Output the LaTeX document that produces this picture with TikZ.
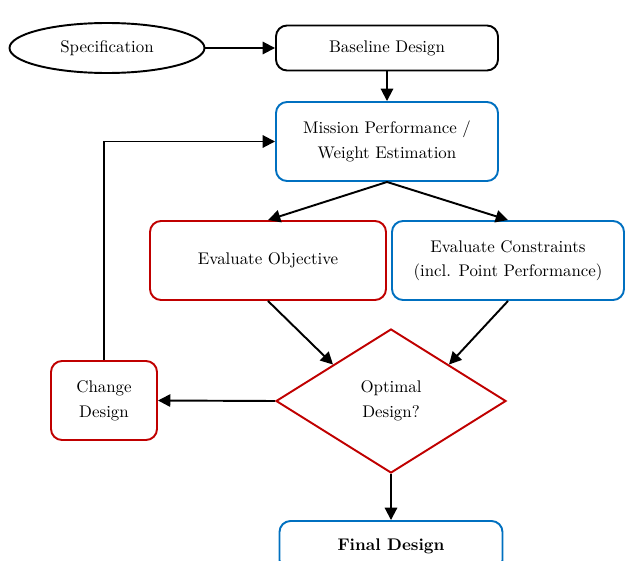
\documentclass[tikz,border=0pt]{standalone}
\usetikzlibrary{shapes.geometric,arrows.meta}
\definecolor{boxblue}{RGB}{0,112,192}
\definecolor{boxred}{RGB}{192,0,0}

\begin{document}
\begin{tikzpicture}[
    >={Triangle[length=7pt,width=7pt]},
    every node/.style={font=\fontsize{9.6}{11}\selectfont, align=center, line width=1.1pt},
    bluebox/.style={draw=boxblue, rounded corners=0.22cm},
    redbox/.style={draw=boxred, rounded corners=0.22cm},
    blackbox/.style={draw=black, rounded corners=0.22cm},
    flow/.style={->, line width=1.1pt}
  ]
  \useasboundingbox (0,0) rectangle (12.5,-11.2);
  %
  \node[draw, ellipse, minimum width=3.9cm, minimum height=1.0cm] (spec) at (2.14,-0.96) {Specification};
  \node[blackbox, minimum width=4.44cm, minimum height=0.9cm] (base) at (7.74,-0.96) {Baseline Design};
  \node[bluebox, minimum width=4.44cm, minimum height=1.58cm] (mission) at (7.74,-2.83)
    {Mission Performance /\\[3pt] Weight Estimation};
  \node[redbox, minimum width=4.72cm, minimum height=1.58cm] (obj) at (5.36,-5.21) {Evaluate Objective};
  \node[bluebox, minimum width=4.64cm, minimum height=1.58cm] (con) at (10.16,-5.21)
    {Evaluate Constraints\\[3pt] (incl. Point Performance)};
  \node[draw=boxred, diamond, inner sep=0pt, minimum width=4.6cm, minimum height=2.88cm] (opt) at (7.82,-8.02)
    {Optimal\\[3pt] Design?};
  \node[redbox, minimum width=2.12cm, minimum height=1.58cm] (change) at (2.08,-8.01) {Change\\[3pt] Design};
  \node[bluebox, minimum width=4.46cm, minimum height=1.0cm] (final) at (7.82,-10.92) {\textbf{Final Design}};
  %
  \draw[flow] (spec) -- (base);
  \draw[flow] (base) -- (mission);
  \draw[flow] (mission.south) -- (obj.north);
  \draw[flow] (mission.south) -- (con.north);
  \draw[flow] (obj.south) -- (opt.north west);
  \draw[flow] (con.south) -- (opt.north east);
  \draw[flow] (opt.west) -- (change.east);
  \draw[flow] (change.north) |- (mission.west);
  \draw[flow] (opt.south) -- (final.north);
  %
\end{tikzpicture}
\end{document}
